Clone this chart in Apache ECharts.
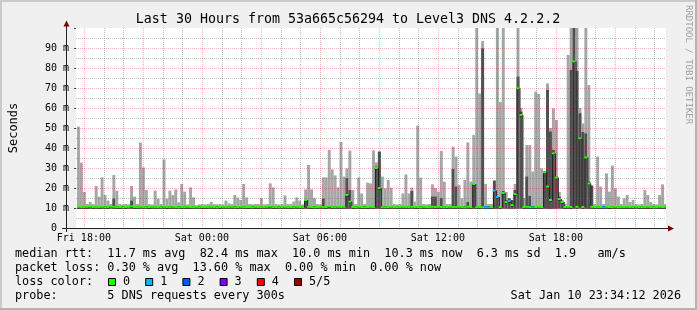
<!DOCTYPE html>
<html><head><meta charset="utf-8">
<script src="https://cdn.jsdelivr.net/npm/echarts@6/dist/echarts.min.js"></script>
<style>html,body{margin:0;padding:0;background:#f0f0f0}#c{width:697px;height:310px}</style>
</head><body><div id="c"></div><script>
// time axis: minutes since Fri 00:00
const axisStart = 1056, axisEnd = 2856;
const binStart = 1059, binMinutes = 9;

const lo = [
9.6,9.7,9.6,9.5,9.6,9.6,9.7,9.6,9.6,9.5,9.6,9.7,9.6,9.6,9.5,9.6,9.6,9.7,9.6,9.6,
9.6,9.6,9.7,9.6,9.5,9.6,9.6,9.7,9.6,9.6,9.5,9.6,9.6,9.7,9.6,9.6,9.6,9.5,9.6,9.7,
9.6,9.6,9.5,9.6,9.7,9.6,9.6,9.6,9.5,9.6,9.7,9.6,9.6,9.5,9.6,9.6,9.7,9.6,9.6,9.6,
9.5,9.6,9.6,9.7,9.6,9.6,9.5,9.6,9.6,9.7,9.6,9.6,9.6,9.5,9.6,9.7,9.6,9.6,9.6,9.5,
9.6,9.7,9.6,9.6,9.5,9.6,9.6,9.7,9.6,9.6,9.6,9.5,9.6,9.6,9.7,9.6,9.6,9.5,9.6,9.6,
9.7,9.6,9.6,9.6,9.5,9.6,9.6,9.7,9.6,9.6,9.5,9.6,9.6,9.7,9.6,9.6,9.6,9.5,9.6,9.7,
9.6,9.6,9.5,9.6,9.7,9.6,9.6,9.6,9.5,9.6,9.6,9.7,9.6,9.6,9.5,9.6,9.6,9.7,9.6,9.6,
9.6,9.5,9.6,9.6,9.7,9.6,9.6,9.5,9.6,9.6,9.7,9.6,9.6,9.6,9.5,9.6,9.6,9.7,9.6,9.6,
9.5,9.6,9.6,9.7,9.6,9.6,9.6,9.5,9.6,9.6,9.7,9.6,9.6,9.5,9.6,9.6,9.7,9.6,9.6,9.6,
9.5,9.6,9.6,9.7,9.6,9.6,9.5,9.6,9.6,9.7,9.6,9.6,9.6,9.5,9.6,9.6,9.7,9.6,9.6,9.6
];
const hi = [
50.7,32.7,18,12,13,12,21,15.7,25.3,16.5,13.7,12,26.5,18.7,12,11.8,12,11.8,21,15.7,
12,42.7,30.3,19,12,11.8,18.7,14.7,12,34.3,14.7,18.7,16.5,19.3,12.8,22,18.2,11.8,20.3,15.3,
11.3,11.8,12,11.8,12,13,12,11.8,12,11.8,13.7,12.3,12,16.5,15.2,14,22,15.3,12,11.8,
12,12,15,11.8,12,22.3,20.3,12,11.8,12,16.3,12,12,13.2,15.3,13.7,11.8,19.3,31.5,19.3,
15,12,11.8,25.3,25.3,39,29.3,26.3,20.3,43,25.7,29.8,38.7,19,12,25.3,17.3,12,22.7,22.3,
38.8,32.8,38.5,25.7,19.8,24,20.2,12,11.8,12,17.3,26.8,17.3,20.2,13.2,51.2,25.2,12,11.8,12,
21.8,20,18.2,38.5,23.2,12,12,40.7,35.7,21.5,14.8,24,42.8,23.2,46.5,100,67.3,93.5,22,12,
12,24,100,63,100,18,15,14,22,100,60,15,41.5,41.5,28.2,68.2,67,29.8,28.5,72.3,
50,59.8,54,18,14,12,86.5,100,100,100,60,52.3,100,71.5,21.5,12,35.7,20.7,12,27.3,
18.2,31.2,19.8,15.7,12,14.8,16.5,13,14,12,11.8,12,19,16.5,13,12,11.8,16.5,21.8,12
];
const dk = [
11,11,11,11,11,11,11,11,11,11,11,11,14.7,11,11,11,11,11,13.7,11,
11,11,11,11,11,11,11,11,11,11,11,11,11,11,11,11,11,11,11,11,
11,11,11,11,11,11,11,11,11,11,11,11,11,11,11,11,11,11,11,11,
11,11,11,11,11,11,11,11,11,11,11,11,11,11,11,11,11,14,11,11,
11,11,11,14.8,11,11,11,11,11,11,11,25,19,11,11,11,11,11,11,11,
11,30.7,38,11,11,11,11,11,11,11,11,11,11,18.5,11,11,11,11,11,11,
15.7,15.7,11,15,11,11,11,29.5,20.7,11,11,11,13,11,22.3,11,11,89.8,11,11,
11,23.5,15.7,11,18.5,14,14.8,14,19,75.7,58.2,11,25.7,16,11,11,11,11,28.2,69,
48.2,39,25.7,15.7,13,11,11,79,100,78.5,57.3,48,47.3,23.2,21,11,11,11,11,11,
11,11,11,11,11,11,11,11,11,11,11,11,11,11,11,11,11,11,11,11
];
const med = [
10.6,10.5,10.4,10.6,10.7,10.5,10.4,10.5,10.6,10.3,10.5,10.7,10.6,10.4,10.5,10.3,10.5,10.6,10.8,10.5,
10.4,10.6,10.5,10.3,10.5,10.6,10.4,10.5,10.3,10.6,10.5,10.4,10.6,10.5,10.3,10.5,10.4,10.6,10.5,10.4,
10.6,10.3,10.5,10.5,10.4,10.6,10.5,10.3,10.5,10.6,10.5,10.4,10.6,10.3,10.5,10.6,10.4,10.5,10.5,10.3,
10.6,10.5,10.4,10.5,10.6,10.7,10.4,10.5,10.3,10.5,10.6,10.4,10.5,10.3,10.6,10.5,10.4,14.0,10.6,10.5,
10.3,10.5,10.6,10.4,10.5,10.8,10.5,10.4,10.6,10.5,10.6,16.5,13.2,10.5,10.4,10.6,10.5,10.3,10.5,10.6,
10.5,30.0,20.0,10.4,10.3,10.5,10.6,10.5,10.4,10.5,10.6,10.5,10.4,10.6,10.5,10.5,10.3,10.6,10.5,10.4,
10.6,10.5,10.6,10.5,10.4,10.5,10.6,10.5,10.4,10.6,10.5,10.3,10.6,10.5,22.0,10.4,10.5,10.3,10.4,10.3,
10.5,18.7,15.5,10.5,17.5,13.0,13.5,11.5,17.0,69.8,56.5,10.5,10.6,10.4,10.3,10.5,10.6,10.5,27.8,20.7,
14.0,37.3,25.2,14.5,13.0,10.5,10.6,10.5,83.2,10.6,44.8,10.5,35.2,22.2,10.6,10.5,10.4,10.5,10.3,10.6,
10.5,10.4,10.6,10.5,10.4,10.5,10.6,10.5,10.4,10.6,10.5,10.4,10.5,10.6,10.5,10.3,10.5,10.6,10.5,10.6
];
const loss = [
0,0,0,0,0,0,0,0,0,0,0,0,0,0,0,0,0,0,0,0,
0,0,0,0,0,0,0,0,0,0,0,0,0,0,0,0,0,0,0,0,
0,0,0,0,0,0,0,0,0,0,0,0,0,0,0,0,0,0,0,0,
0,0,0,0,0,0,0,0,0,0,0,0,0,0,0,0,0,0,0,0,
0,0,0,0,0,0,0,0,0,0,0,0,0,0,0,0,0,0,0,0,
0,0,0,0,0,0,0,0,0,0,0,0,0,0,0,0,0,0,0,0,
0,0,0,0,0,0,0,0,0,0,0,0,0,0,0,0,0,0,1,1,
0,1,1,0,0,0,1,0,0,0,0,0,0,0,1,0,0,0,0,0,
0,0,0,0,0,0,0,0,0,0,0,0,0,0,0,0,0,0,1,0,
0,0,0,0,0,0,0,0,0,0,0,0,0,0,0,0,0,0,0,0
];
const lossColors = ['#26ff00','#00b8ff','#0059ff','#7e00ff','#ff0000','#a00000'];
const lossLabels = ['0','1','2','3','4','5/5'];
const xTickTimes = [1080,1440,1800,2160,2520];
const xTickLabels = ['Fri 18:00','Sat 00:00','Sat 06:00','Sat 12:00','Sat 18:00'];
const yTickValues = [0,10,20,30,40,50,60,70,80,90,100];
const yTickLabels = ['0  ','10 m','20 m','30 m','40 m','50 m','60 m','70 m','80 m','90 m',''];
const titleText = 'Last 30 Hours from 53a665c56294 to Level3 DNS 4.2.2.2';
const statLines = [
 'median rtt:  11.7 ms avg  82.4 ms max  10.0 ms min  10.3 ms now  6.3 ms sd  1.9   am/s',
 'packet loss: 0.30 % avg  13.60 % max  0.00 % min  0.00 % now'
];
const probeLine = 'probe:       5 DNS requests every 300s';
const dateText = 'Sat Jan 10 23:34:12 2026';

const MONO = '"DejaVu Sans Mono", monospace';
const smokeData = hi.map((h, i) => [binStart + i * binMinutes, lo[i], h, dk[i]]);
const medData = med.map((m, i) => [binStart + i * binMinutes, m, i > 0 ? med[i - 1] : m, loss[i]]);
const gridData = [];
for (let t = 1080; t < axisEnd; t += 60) gridData.push([0, t, ((t - 1080) % 180 === 0) ? 1 : 0]);
for (let v = 5; v < 100; v += 5) gridData.push([1, v, v % 10 === 0 ? 1 : 0]);

function clampX(cs, x) { return Math.max(cs.x, Math.min(cs.x + cs.width, x)); }

function renderSmoke(params, api) {
  const cs = params.coordSys;
  const t = api.value(0);
  const pLo = api.coord([t, api.value(1)]);
  const pHi = api.coord([t, api.value(2)]);
  const pDk = api.coord([t, api.value(3)]);
  const x0 = clampX(cs, pLo[0]);
  const x1 = clampX(cs, api.coord([t + binMinutes, 0])[0]);
  return { type: 'group', children: [
    { type: 'rect', shape: { x: x0, y: pHi[1], width: x1 - x0, height: pLo[1] - pHi[1] }, style: { fill: '#a6a6a6' } },
    { type: 'rect', shape: { x: x0, y: pDk[1], width: x1 - x0, height: pLo[1] - pDk[1] }, style: { fill: '#505050' } }
  ]};
}
function renderMedian(params, api) {
  const cs = params.coordSys;
  const t = api.value(0), m = api.value(1), pm = api.value(2), l = api.value(3);
  const a = api.coord([t, m]);
  const pp = api.coord([t, pm]);
  const x0 = clampX(cs, a[0]);
  const x1 = clampX(cs, api.coord([t + binMinutes, m])[0]);
  const up = api.coord([t, m + 0.5]), dn = api.coord([t, m - 0.5]);
  return { type: 'group', children: [
    { type: 'line', shape: { x1: x0 + 0.5, y1: pp[1], x2: x0 + 0.5, y2: a[1] }, style: { stroke: '#202020', lineWidth: 1 } },
    { type: 'line', shape: { x1: x0, y1: a[1] + 1, x2: x1, y2: a[1] + 1 }, style: { stroke: '#202020', lineWidth: 1 } },
    { type: 'rect', shape: { x: x0, y: up[1], width: x1 - x0, height: dn[1] - up[1] }, style: { fill: lossColors[l] } }
  ]};
}
function renderGrid(params, api) {
  const cs = params.coordSys;
  const kind = api.value(0), v = api.value(1), major = api.value(2);
  const stroke = major ? 'rgba(255,0,0,0.3)' : 'rgba(120,120,120,0.45)';
  if (kind === 0) {
    const x = Math.round(api.coord([v, 0])[0]) + 0.5;
    return { type: 'line', shape: { x1: x, y1: cs.y, x2: x, y2: cs.y + cs.height }, style: { stroke, lineWidth: 1, lineDash: [1, 1] } };
  }
  const y = Math.round(api.coord([axisStart, v])[1]) + 0.5;
  return { type: 'line', shape: { x1: cs.x, y1: y, x2: cs.x + cs.width, y2: y }, style: { stroke, lineWidth: 1, lineDash: [1, 1] } };
}

const graphics = [
  { type: 'rect', shape: { x: 0, y: 0, width: 697, height: 2 }, style: { fill: '#cbcbcb' }, z: 100 },
  { type: 'rect', shape: { x: 0, y: 0, width: 2, height: 310 }, style: { fill: '#cbcbcb' }, z: 100 },
  { type: 'rect', shape: { x: 0, y: 308, width: 697, height: 2 }, style: { fill: '#b4b4b4' }, z: 100 },
  { type: 'rect', shape: { x: 695, y: 0, width: 2, height: 310 }, style: { fill: '#b4b4b4' }, z: 100 },
  { type: 'text', x: 348, y: 20, style: { text: titleText, font: '13.3px ' + MONO, fill: '#000', textAlign: 'center', textVerticalAlign: 'middle' }, z: 100 },
  { type: 'text', x: 688, y: 5, rotation: -Math.PI / 2, style: { text: 'RRDTOOL / TOBI OETIKER', font: '9px ' + MONO, fill: '#a0a0a0', textAlign: 'left', textVerticalAlign: 'middle' }, z: 100 },
  // axis extensions and arrows
  { type: 'line', shape: { x1: 66.5, y1: 24, x2: 66.5, y2: 232 }, style: { stroke: '#222', lineWidth: 1 }, z: 100 },
  { type: 'line', shape: { x1: 62, y1: 228.5, x2: 670, y2: 228.5 }, style: { stroke: '#222', lineWidth: 1 }, z: 100 },
  { type: 'polygon', shape: { points: [[66.5, 20.5], [63.5, 26.5], [69.5, 26.5]] }, style: { fill: '#7f0000' }, z: 101 },
  { type: 'polygon', shape: { points: [[674, 228.5], [668, 225.5], [668, 231.5]] }, style: { fill: '#7f0000' }, z: 101 },
  { type: 'text', x: 15, y: 254, style: { text: statLines[0], font: '11.8px ' + MONO, fill: '#000', textVerticalAlign: 'middle' }, z: 100 },
  { type: 'text', x: 15, y: 268.2, style: { text: statLines[1], font: '11.8px ' + MONO, fill: '#000', textVerticalAlign: 'middle' }, z: 100 },
  { type: 'text', x: 15, y: 282.2, style: { text: 'loss color:', font: '11.8px ' + MONO, fill: '#000', textVerticalAlign: 'middle' }, z: 100 },
  { type: 'text', x: 15, y: 296.2, style: { text: probeLine, font: '11.8px ' + MONO, fill: '#000', textVerticalAlign: 'middle' }, z: 100 },
  { type: 'text', x: 681, y: 296.2, style: { text: dateText, font: '11.8px ' + MONO, fill: '#000', textAlign: 'right', textVerticalAlign: 'middle' }, z: 100 }
];
lossColors.forEach((c, k) => {
  const bx = 108 + k * 37.2;
  graphics.push({ type: 'rect', shape: { x: bx + 0.5, y: 278.5, width: 7, height: 7 }, style: { fill: c, stroke: '#000', lineWidth: 1 }, z: 100 });
  graphics.push({ type: 'text', x: bx + 15, y: 282.2, style: { text: lossLabels[k], font: '11.8px ' + MONO, fill: '#000', textVerticalAlign: 'middle' }, z: 100 });
});

const chart = echarts.init(document.getElementById('c'), null, { renderer: 'canvas' });
chart.setOption({
  animation: false,
  backgroundColor: '#f0f0f0',
  grid: { left: 66, top: 28, width: 600, height: 200, show: true, backgroundColor: '#ffffff', borderWidth: 0 },
  xAxis: {
    type: 'value', min: axisStart, max: axisEnd,
    axisLine: { show: false },
    axisTick: { show: false },
    splitLine: { show: false },
    axisLabel: {
      customValues: xTickTimes,
      formatter: v => { const k = xTickTimes.indexOf(v); return k >= 0 ? xTickLabels[k] : ''; },
      fontFamily: MONO, fontSize: 10, color: '#000', margin: 5
    }
  },
  yAxis: {
    type: 'value', min: 0, max: 100, interval: 10,
    name: 'Seconds', nameLocation: 'middle', nameRotate: 90, nameGap: 56,
    nameTextStyle: { fontFamily: MONO, fontSize: 12, color: '#000' },
    axisLine: { show: false },
    axisTick: { show: true, length: 2, lineStyle: { color: '#444' } },
    splitLine: { show: false },
    axisLabel: {
      formatter: v => { const k = yTickValues.indexOf(v); return k >= 0 ? yTickLabels[k] : ''; },
      fontFamily: MONO, fontSize: 10, color: '#000', margin: 7
    }
  },
  series: [
    { type: 'custom', name: 'smoke', renderItem: renderSmoke, data: smokeData, z: 2, silent: true },
    { type: 'custom', name: 'grid', renderItem: renderGrid, data: gridData, z: 3, silent: true },
    { type: 'custom', name: 'median', renderItem: renderMedian, data: medData, z: 4, silent: true }
  ],
  graphic: graphics
});
</script></body></html>
